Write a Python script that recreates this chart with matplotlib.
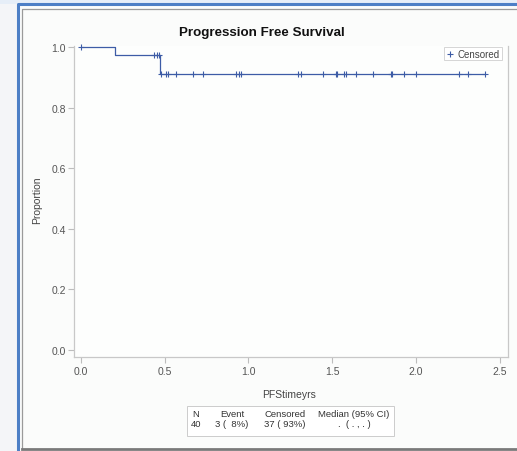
import matplotlib
matplotlib.use("Agg")
import matplotlib.pyplot as plt
from matplotlib.lines import Line2D
from matplotlib.patches import Rectangle

plt.rcParams["font.family"] = ["Liberation Sans", "DejaVu Sans"]

# Kaplan-Meier step curve
step_t = [0.0, 0.205, 0.473, 2.413]
step_s = [1.0, 0.975, 0.913, 0.913]

# censored times, grouped by the survival level they sit on
cens_t1 = [0.003]
cens_t2 = [0.439, 0.452, 0.464]
cens_t3 = [0.477, 0.509, 0.518, 0.568, 0.668, 0.732, 0.929, 0.941, 0.956,
           1.298, 1.312, 1.443, 1.521, 1.527, 1.572, 1.582, 1.641, 1.745,
           1.852, 1.855, 1.930, 1.998, 2.258, 2.311, 2.413]

xticks = [0.0, 0.5, 1.0, 1.5, 2.0, 2.5]
yticks = [0.0, 0.2, 0.4, 0.6, 0.8, 1.0]

tbl_head = ["N", "Event", "Censored", "Median (95% CI)"]
tbl_vals = ["40", "3 (  8%)", "37 ( 93%)", ".  ( . , . )"]

W, H = 517, 452
BLUE = "#3d5ca6"
fig = plt.figure(figsize=(W / 100, H / 100), dpi=100)
fig.patch.set_facecolor("#f4f5f8")

def fx(px): return px / W
def fy(py): return 1 - py / H

# screenshot frame
fig.add_artist(Rectangle((0, fy(5)), 1, 1 - fy(5), transform=fig.transFigure,
                         facecolor="#e6eef8", edgecolor="none", zorder=0))
fig.add_artist(Rectangle((fx(18), fy(452)), fx(517 - 18), fy(5) - fy(452),
                         transform=fig.transFigure, facecolor="#fbfcfb",
                         edgecolor="none", zorder=0))
fig.add_artist(Line2D([fx(18), fx(18), fx(517)], [fy(452), fy(5), fy(5)],
                      transform=fig.transFigure, color="#4d7fc6", lw=2.2))
fig.add_artist(Line2D([fx(21.5), fx(21.5), fx(517)], [fy(449), fy(10), fy(10)],
                      transform=fig.transFigure, color="#9a9a9a", lw=0.9))
fig.add_artist(Line2D([fx(21.5), fx(517)], [fy(450), fy(450)],
                      transform=fig.transFigure, color="#7a7a7a", lw=2.0))

ax = fig.add_axes([fx(74), fy(358.3), fx(508 - 74), fy(47) - fy(358.3)])
ax.set_facecolor("#fdfefd")
ax.step(step_t, step_s, where="post", color=BLUE, lw=0.9, clip_on=False)
mk = dict(ls="none", marker="+", color=BLUE, ms=5, mew=0.8, clip_on=False)
ax.plot(cens_t1, [step_s[0]] * len(cens_t1), **mk)
ax.plot(cens_t2, [step_s[1]] * len(cens_t2), **mk)
ax.plot(cens_t3, [step_s[2]] * len(cens_t3), **mk)

ax.set_xlim(-0.040, 2.548)
ax.set_ylim(-0.025, 1.004)
ax.set_xticks(xticks, [f"{v:.1f}" for v in xticks])
ax.set_yticks(yticks, [f"{v:.1f}" for v in yticks])
ax.tick_params(colors="#bdbdbd", labelcolor="#555555", labelsize=7.5,
               length=4, width=0.8, pad=2)
for s in ["left", "bottom", "right"]:
    ax.spines[s].set_color("#c8c8c8")
    ax.spines[s].set_linewidth(0.9)
ax.spines["top"].set_visible(False)

ax_w, ax_h = 508 - 74, 358.3 - 47
ax.set_ylabel("Proportion", fontsize=7.5, color="#444444")
ax.yaxis.set_label_coords((42 - 74) / ax_w, (358.3 - 200) / ax_h)
ax.set_xlabel("PFStimeyrs", fontsize=7.5, color="#444444")
ax.xaxis.set_label_coords((289 - 74) / ax_w, (358.3 - 390) / ax_h)

fig.text(fx(262), fy(33), "Progression Free Survival", ha="center", va="center",
         fontsize=9.6, fontweight="bold", color="#111111")

# legend box
fig.add_artist(Rectangle((fx(444), fy(61)), fx(58), fy(48) - fy(61),
                         transform=fig.transFigure, facecolor="white",
                         edgecolor="#d5d5d5", lw=0.7))
fig.add_artist(Line2D([fx(450)], [fy(54.5)], transform=fig.transFigure,
                      marker="+", color=BLUE, ms=5, mew=0.8))
fig.text(fx(457), fy(54.5), "Censored", ha="left", va="center", fontsize=7,
         color="#444444")

# summary table
fig.add_artist(Rectangle((fx(187), fy(437)), fx(207), fy(407) - fy(437),
                         transform=fig.transFigure, facecolor="white",
                         edgecolor="#cccccc", lw=0.7))
cols = [196, 232, 285, 354]
for cx, h, v in zip(cols, tbl_head, tbl_vals):
    fig.text(fx(cx), fy(414.5), h, ha="center", va="center", fontsize=6.8, color="#333333")
    fig.text(fx(cx), fy(425), v, ha="center", va="center", fontsize=6.8, color="#333333")

fig.savefig("out.png", dpi=100, facecolor=fig.get_facecolor())
